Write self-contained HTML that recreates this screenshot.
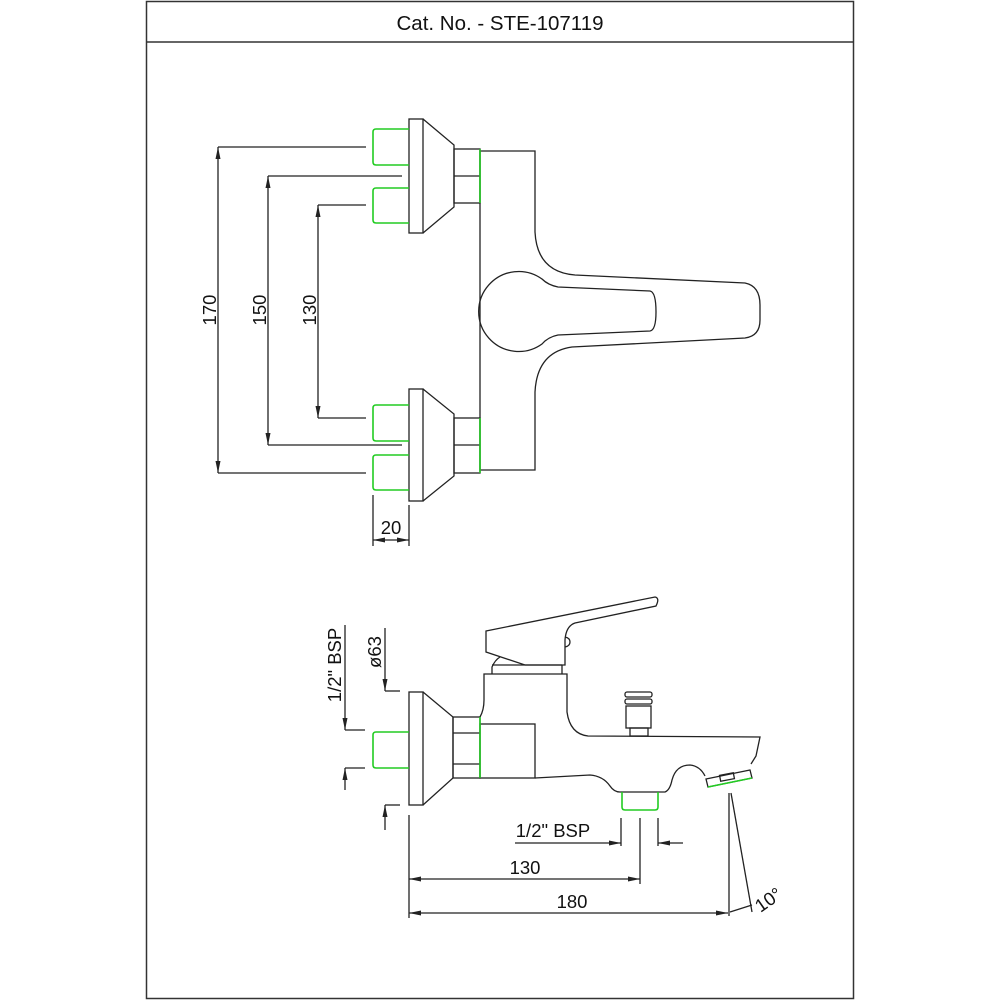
<!DOCTYPE html>
<html><head><meta charset="utf-8"><style>
html,body{margin:0;padding:0;background:#fff;}
svg{display:block;}
text{font-family:"Liberation Sans",sans-serif;fill:#111;}
</style></head><body>
<svg width="1000" height="1000" viewBox="0 0 1000 1000" xmlns="http://www.w3.org/2000/svg">
<defs>
<marker id="a" markerWidth="12" markerHeight="8" refX="12" refY="4" orient="auto-start-reverse" markerUnits="userSpaceOnUse">
<path d="M0,1.5 L12,4 L0,6.5 Z" fill="#222"/></marker>
</defs>
<g fill="none" stroke="#333" stroke-width="1.5">
<rect x="146.5" y="1.5" width="707" height="997"/>
<line x1="146" y1="42" x2="854" y2="42"/>
</g>
<text x="500" y="30" font-size="20.5" text-anchor="middle">Cat. No. - STE-107119</text>

<!-- TOP VIEW -->
<g fill="none" stroke="#222" stroke-width="1.3">
<rect x="409" y="119" width="14" height="114"/>
<path d="M423,119 L454,145 L454,207 L423,233"/>
<rect x="454" y="149" width="26" height="54"/>
<line x1="454" y1="176" x2="480" y2="176"/>
<rect x="409" y="389" width="14" height="112"/>
<path d="M423,389 L454,414 L454,476 L423,501"/>
<rect x="454" y="418" width="26" height="55"/>
<line x1="454" y1="445" x2="480" y2="445"/>
<path d="M480,151 L535,151 L535,232 Q537,272 575,275 L745,283 Q760,286 760,305 L760,320 Q760,336 745,338 L572,347 Q537,352 535,392 L535,470 L480,470 Z"/>
<path d="M558,287 L650,291 Q656,292 656,312 Q656,330 650,331 L558,335 Q548,337 542,344 A40,40 0 1 1 542,279 Q548,285 558,287 Z"/>
<line x1="218" y1="147" x2="366" y2="147"/>
<line x1="268" y1="176" x2="402" y2="176"/>
<line x1="318" y1="205" x2="366" y2="205"/>
<line x1="318" y1="418" x2="366" y2="418"/>
<line x1="268" y1="445" x2="402" y2="445"/>
<line x1="218" y1="473" x2="366" y2="473"/>
<line x1="218" y1="147" x2="218" y2="473" marker-start="url(#a)" marker-end="url(#a)"/>
<line x1="268" y1="176" x2="268" y2="445" marker-start="url(#a)" marker-end="url(#a)"/>
<line x1="318" y1="205" x2="318" y2="418" marker-start="url(#a)" marker-end="url(#a)"/>
<line x1="373" y1="495" x2="373" y2="546"/>
<line x1="409" y1="505" x2="409" y2="546"/>
<line x1="373" y1="540" x2="409" y2="540" marker-start="url(#a)" marker-end="url(#a)"/>
</g>
<g fill="none" stroke="#2c2" stroke-width="1.6">
<path d="M409,129 L376,129 Q373,129 373,132 L373,162 Q373,165 376,165 L409,165"/>
<path d="M409,188 L376,188 Q373,188 373,191 L373,220 Q373,223 376,223 L409,223"/>
<path d="M409,405 L376,405 Q373,405 373,408 L373,438 Q373,441 376,441 L409,441"/>
<path d="M409,455 L376,455 Q373,455 373,458 L373,487 Q373,490 376,490 L409,490"/>
<line x1="480" y1="149" x2="480" y2="203"/>
<line x1="480" y1="418" x2="480" y2="473"/>
</g>
<g font-size="18.5">
<text transform="translate(216,310) rotate(-90)" text-anchor="middle">170</text>
<text transform="translate(266,310) rotate(-90)" text-anchor="middle">150</text>
<text transform="translate(316,310) rotate(-90)" text-anchor="middle">130</text>
<text x="391" y="534" text-anchor="middle">20</text>
</g>

<!-- SIDE VIEW -->
<g fill="none" stroke="#222" stroke-width="1.3">
<rect x="409" y="692" width="14" height="113"/>
<path d="M423,692 L453,717 L453,778 L423,805"/>
<rect x="453" y="717" width="27" height="61"/>
<line x1="453" y1="733" x2="480" y2="733"/>
<line x1="453" y1="764" x2="480" y2="764"/>
<path d="M480,717 Q484,710 484,700 L484,674 L567,674 L567,712 Q570,734 588,736 L760,737 L756,756 L751,764"/>
<rect x="480" y="724" width="55" height="54"/>
<path d="M535,778 L590,775 Q603,776 610,786 Q614,792 620,792 L665,792 Q670,790 672,780 Q676,765 690,765 Q700,766 705,776"/>
<path d="M706,779 L750,770 L752,778 L708,787 Z"/>
<rect x="720" y="774" width="14" height="6" transform="rotate(-11 727 777)"/>
<path d="M486,631 L655,597 Q660,598 656,606 L575,623 Q566,626 565,640 L565,665 L525,665 L486,652 Z"/>
<path d="M492,674 L492,667 Q495,660 500,657 M562,674 L562,665"/>
<line x1="492" y1="665" x2="562" y2="665"/>
<path d="M565,637 Q570,638 570,642 Q570,646 565,647"/>
<rect x="625" y="692" width="27" height="5" rx="2"/>
<rect x="625" y="699" width="27" height="5" rx="2"/>
<rect x="626" y="706" width="25" height="22"/>
<rect x="630" y="728" width="18" height="8"/>
<line x1="345" y1="625" x2="345" y2="730" marker-end="url(#a)"/>
<line x1="345" y1="730" x2="365" y2="730"/>
<line x1="345" y1="768" x2="365" y2="768"/>
<line x1="345" y1="790" x2="345" y2="768" marker-end="url(#a)"/>
<line x1="385" y1="628" x2="385" y2="691" marker-end="url(#a)"/>
<line x1="385" y1="691" x2="400" y2="691"/>
<line x1="385" y1="805" x2="400" y2="805"/>
<line x1="385" y1="830" x2="385" y2="805" marker-end="url(#a)"/>
<line x1="409" y1="815" x2="409" y2="918"/>
<line x1="621" y1="818" x2="621" y2="846"/>
<line x1="640" y1="818" x2="640" y2="884"/>
<line x1="658" y1="818" x2="658" y2="846"/>
<line x1="515" y1="843" x2="621" y2="843" marker-end="url(#a)"/>
<line x1="683" y1="843" x2="658" y2="843" marker-end="url(#a)"/>
<line x1="409" y1="879" x2="640" y2="879" marker-start="url(#a)" marker-end="url(#a)"/>
<line x1="409" y1="913" x2="728" y2="913" marker-start="url(#a)" marker-end="url(#a)"/>
<line x1="729" y1="793" x2="729" y2="916"/>
<line x1="731" y1="793" x2="752" y2="912"/>
<path d="M730,912 L752,905"/>
</g>
<g fill="none" stroke="#2c2" stroke-width="1.6">
<path d="M409,732 L376,732 Q373,732 373,735 L373,765 Q373,768 376,768 L409,768"/>
<line x1="480" y1="717" x2="480" y2="778"/>
<path d="M622,792 L622,807 Q622,810 625,810 L655,810 Q658,810 658,807 L658,792"/>
<line x1="708" y1="787" x2="752" y2="778"/>
</g>
<g font-size="18.5">
<text transform="translate(341,665) rotate(-90)" text-anchor="middle">1/2" BSP</text>
<text transform="translate(381,652) rotate(-90)" text-anchor="middle">ø63</text>
<text x="553" y="837" text-anchor="middle">1/2" BSP</text>
<text x="525" y="874" text-anchor="middle">130</text>
<text x="572" y="908" text-anchor="middle">180</text>
<text transform="translate(772,905) rotate(-35)" text-anchor="middle">10°</text>
</g>
</svg>
</body></html>
